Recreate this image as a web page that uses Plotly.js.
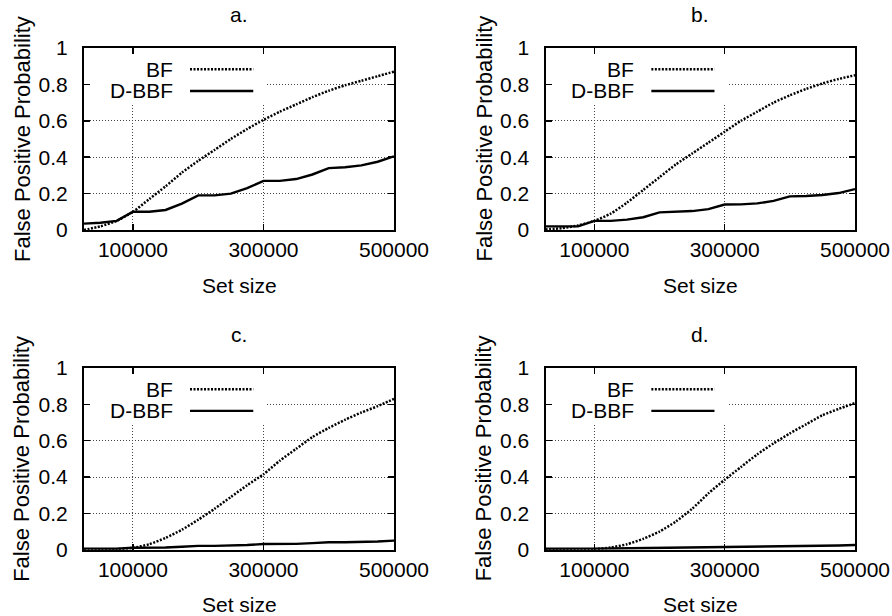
<!DOCTYPE html>
<html>
<head>
<meta charset="utf-8">
<script src="https://cdn.plot.ly/plotly-3.0.1.min.js"></script>
<style>html,body{margin:0;padding:0;background:#fff;}#chart{width:892px;height:616px;}</style>
</head>
<body>
<div id="chart"></div>
<script>
// ---- data ----
const setSize = [25000, 50000, 75000, 100000, 125000, 150000, 175000, 200000, 225000, 250000,
                 275000, 300000, 325000, 350000, 375000, 400000, 425000, 450000, 475000, 500000];

const bfA   = [0.0, 0.02, 0.05, 0.10, 0.17, 0.24, 0.315, 0.38, 0.44, 0.50,
               0.555, 0.605, 0.65, 0.69, 0.73, 0.765, 0.795, 0.82, 0.845, 0.87];
const dbbfA = [0.035, 0.04, 0.05, 0.10, 0.10, 0.11, 0.145, 0.19, 0.19, 0.20,
               0.23, 0.27, 0.27, 0.28, 0.305, 0.34, 0.345, 0.355, 0.375, 0.405];

const bfB   = [0.003, 0.01, 0.025, 0.05, 0.09, 0.15, 0.22, 0.29, 0.36, 0.42,
               0.48, 0.54, 0.60, 0.65, 0.70, 0.74, 0.775, 0.805, 0.83, 0.85];
const dbbfB = [0.02, 0.02, 0.02, 0.05, 0.05, 0.057, 0.07, 0.097, 0.099, 0.104,
               0.115, 0.14, 0.141, 0.146, 0.16, 0.185, 0.187, 0.192, 0.203, 0.225];

const bfC   = [0.0, 0.001, 0.003, 0.01, 0.03, 0.065, 0.11, 0.165, 0.225, 0.29,
               0.355, 0.415, 0.49, 0.555, 0.62, 0.67, 0.715, 0.755, 0.79, 0.83];
const dbbfC = [0.006, 0.005, 0.005, 0.011, 0.011, 0.012, 0.016, 0.021, 0.021, 0.022,
               0.026, 0.031, 0.031, 0.032, 0.036, 0.041, 0.041, 0.042, 0.045, 0.05];

const bfD   = [0.0, 0.0, 0.001, 0.003, 0.012, 0.03, 0.06, 0.10, 0.155, 0.225,
               0.31, 0.385, 0.455, 0.525, 0.585, 0.64, 0.69, 0.74, 0.775, 0.807];
const dbbfD = [0.005, 0.004, 0.004, 0.006, 0.007, 0.008, 0.009, 0.012, 0.012, 0.013,
               0.014, 0.016, 0.016, 0.017, 0.018, 0.021, 0.021, 0.022, 0.023, 0.026];

const panelTitles = ['a.', 'b.', 'c.', 'd.'];
const seriesNames = ['BF', 'D-BBF'];
const xTitle = 'Set size';
const yTitle = 'False Positive Probability';
const xTickVals = [100000, 300000, 500000];
const xTickText = ['100000', '300000', '500000'];
const yTickVals = [0, 0.2, 0.4, 0.6, 0.8, 1];
const yTickText = ['0', '0.2', '0.4', '0.6', '0.8', '1'];
const xRange = [25000, 500000];
const yRange = [0, 1];

// ---- layout geometry ----
const W = 892, H = 616;
const colX = [[84, 394], [545.5, 855]];
const rowY = [[48, 230], [368, 549.7]];
const FONT = 'Liberation Sans, Arial, sans-serif';
const FS = 21;
const BF_DASH = '2px,1.5px';
const BF_W = 2.5;

const bfSets = [bfA, bfB, bfC, bfD];
const dbSets = [dbbfA, dbbfB, dbbfC, dbbfD];

const traces = [];
const layout = {
  width: W, height: H,
  margin: {l: 0, r: 0, t: 0, b: 0},
  paper_bgcolor: '#fff', plot_bgcolor: '#fff',
  showlegend: false,
  font: {family: FONT, size: FS, color: '#000'},
  shapes: [], annotations: []
};

for (let i = 0; i < 4; i++) {
  const col = i % 2, row = Math.floor(i / 2);
  const sfx = i === 0 ? '' : String(i + 1);
  const xn = 'x' + sfx, yn = 'y' + sfx;
  const [px0, px1] = colX[col];
  const [py0, py1] = rowY[row];

  traces.push({
    x: setSize, y: bfSets[i], xaxis: xn, yaxis: yn, name: seriesNames[0],
    type: 'scatter', mode: 'lines',
    line: {color: '#000', width: BF_W, dash: BF_DASH, shape: 'spline', smoothing: 0.6}
  });
  traces.push({
    x: setSize, y: dbSets[i], xaxis: xn, yaxis: yn, name: seriesNames[1],
    type: 'scatter', mode: 'lines',
    line: {color: '#000', width: 2.4}
  });

  const common = {
    showline: true, linecolor: '#000', linewidth: 2, mirror: 'allticks',
    ticks: 'inside', ticklen: 6, tickwidth: 1.6, tickcolor: '#000',
    showgrid: true, gridcolor: '#444', gridwidth: 1, griddash: '1px,2px',
    zeroline: false, fixedrange: true,
    tickfont: {family: FONT, size: FS, color: '#000'}
  };
  layout['xaxis' + sfx] = Object.assign({}, common, {
    domain: [px0 / W, px1 / W], anchor: yn, range: xRange,
    tickmode: 'array', tickvals: xTickVals, ticktext: xTickText,
    ticklabelstandoff: 0
  });
  layout['yaxis' + sfx] = Object.assign({}, common, {
    domain: [1 - py1 / H, 1 - py0 / H], anchor: xn, range: yRange,
    tickmode: 'array', tickvals: yTickVals, ticktext: yTickText,
    ticklabelstandoff: 10
  });

  // panel title
  layout.annotations.push({
    text: panelTitles[i], xref: xn + ' domain', yref: 'paper', x: 0.5,
    y: 1 - (py0 - 33) / H, xanchor: 'center', yanchor: 'middle', showarrow: false,
    font: {family: FONT, size: FS, color: '#000'}
  });
  // axis titles
  layout.annotations.push({
    text: xTitle, xref: xn + ' domain', yref: 'paper', x: 0.5,
    y: 1 - (py1 + 55) / H, xanchor: 'center', yanchor: 'middle', showarrow: false,
    font: {family: FONT, size: FS, color: '#000'}
  });
  layout.annotations.push({
    text: yTitle, xref: 'paper', yref: yn + ' domain', x: (px0 - 62) / W, y: 0.5,
    xanchor: 'center', yanchor: 'middle', textangle: -90, showarrow: false,
    font: {family: FONT, size: 22, color: '#000'}
  });

  // key box (white) hiding the grid behind the key
  const keyBoxX = xRange[0] + 0.589 * (xRange[1] - xRange[0]);
  layout.shapes.push({
    type: 'rect', layer: 'between', xref: xn, yref: yn,
    x0: xRange[0] + 1500, x1: keyBoxX, y0: 0.69, y1: 0.995,
    fillcolor: '#fff', line: {width: 0}
  });
  // key entries
  const keyY = [0.883, 0.764];
  const keyDash = [BF_DASH, 'solid'];
  const keyW = [BF_W, 2.4];
  for (let k = 0; k < 2; k++) {
    layout.annotations.push({
      text: seriesNames[k], xref: xn + ' domain', yref: yn + ' domain',
      x: 0.2935, y: keyY[k], xanchor: 'right', yanchor: 'middle', showarrow: false,
      font: {family: FONT, size: FS, color: '#000'}
    });
    layout.shapes.push({
      type: 'line', layer: 'above', xref: xn + ' domain', yref: yn + ' domain',
      x0: 0.342, x1: 0.546, y0: keyY[k], y1: keyY[k],
      line: {color: '#000', width: keyW[k], dash: keyDash[k]}
    });
  }
}

Plotly.newPlot('chart', traces, layout, {staticPlot: true, displayModeBar: false});
</script>
</body>
</html>
